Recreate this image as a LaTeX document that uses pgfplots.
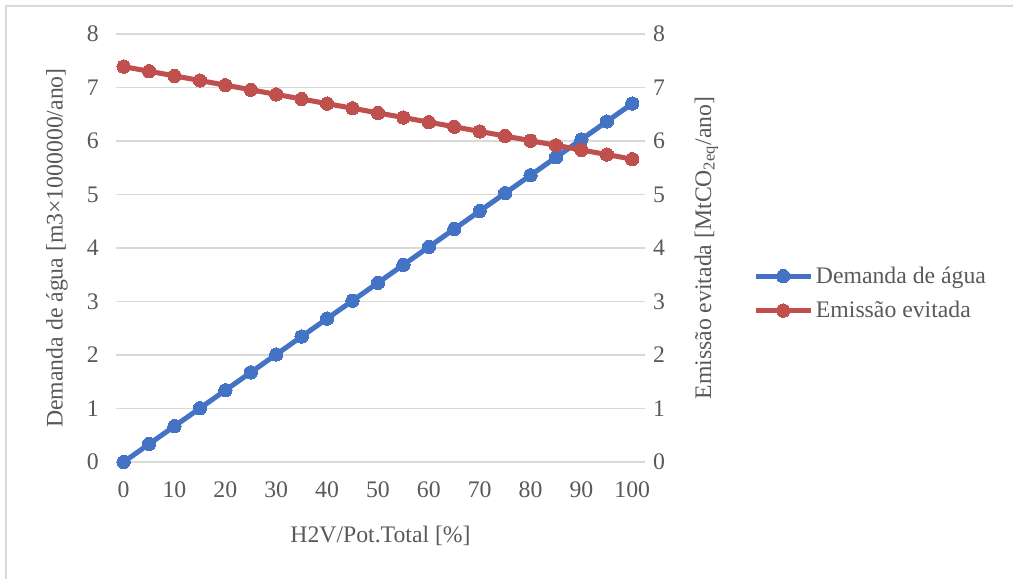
\documentclass[border=0pt]{standalone}
\usepackage{fontspec}
\setmainfont{Liberation Serif}
\usepackage{pgfplots}
\pgfplotsset{compat=1.18}
\definecolor{cblue}{RGB}{68,114,196}
\definecolor{cred}{RGB}{192,80,77}
\definecolor{ctext}{RGB}{89,89,89}
\definecolor{cgrid}{RGB}{217,217,217}
\pgfplotsset{
  myaxis/.style={
    at={(87pt,87.75pt)}, anchor=south west,
    scale only axis, width=396.75pt, height=321pt,
    xmin=-1.5, xmax=102.5, ymin=0, ymax=8,
    font=\fontsize{17.8}{21}\selectfont,
    /pgf/number format/assume math mode=true,
    major tick length=0pt,
    axis line style={draw=none},
    ytick={0,1,...,8},
    tick label style={text=ctext},
    label style={text=ctext},
  },
  legend image code/.code={
    \draw[#1, mark repeat=2, mark phase=2] plot coordinates {(0pt,0pt)(20.6pt,0pt)(41.2pt,0pt)};
  },
}
\pgfplotstableread{
x blue red
0   0.000 7.390
5   0.335 7.304
10  0.670 7.217
15  1.005 7.131
20  1.340 7.044
25  1.675 6.958
30  2.010 6.871
35  2.345 6.785
40  2.680 6.698
45  3.015 6.612
50  3.350 6.525
55  3.685 6.439
60  4.020 6.352
65  4.355 6.266
70  4.690 6.179
75  5.025 6.093
80  5.360 6.006
85  5.695 5.920
90  6.030 5.833
95  6.365 5.747
100 6.700 5.660
}\datatable
\begin{document}
\begin{tikzpicture}[x=0.75pt,y=0.75pt]
\path[use as bounding box] (0,0) rectangle (1013,579);
\draw[cgrid, line width=1.2pt] (6,0) -- (6,573) -- (1013,573);
\begin{axis}[myaxis,
  axis y line*=left, axis x line*=bottom,
  ymajorgrids, grid style={cgrid, line width=1pt},
  xtick={0,10,...,100},
  yticklabel style={xshift=-9.5pt},
  xticklabel style={yshift=-11.4pt},
  xlabel={H2V/Pot.Total [\%]},
  ylabel={Demanda de água [m3×1000000/ano]},
  xlabel style={at={(axis description cs:0.5,-0.173)}, anchor=center},
  ylabel style={at={(axis description cs:-0.1115,0.5)}, anchor=center},
]
\addplot[cblue, line width=3.8pt, mark=*, mark size=5pt, mark options={fill=cblue, draw=cblue, line width=0pt}] table[x=x, y=blue] {\datatable};
\end{axis}
\begin{axis}[myaxis,
  axis y line*=right, axis x line=none,
  yticklabel style={xshift=2.5pt},
  ylabel={Emissão evitada [MtCO\textsubscript{2eq}/ano]},
  ylabel style={at={(axis description cs:1.116,0.5)}, anchor=center, rotate=0},
  legend style={draw=none, fill=none, at={(axis description cs:1.1966,0.394)}, anchor=west, row sep=8pt, text=ctext, font=\fontsize{17.8}{21}\selectfont},
  legend cell align=left,
]
\addlegendimage{cblue, line width=3.8pt, mark=*, mark size=5pt, mark options={fill=cblue, draw=cblue, line width=0pt}}
\addlegendentry{Demanda de água}
\addplot[cred, line width=3.8pt, mark=*, mark size=5pt, mark options={fill=cred, draw=cred, line width=0pt}] table[x=x, y=red] {\datatable};
\addlegendentry{Emissão evitada}
\end{axis}
\end{tikzpicture}
\end{document}
